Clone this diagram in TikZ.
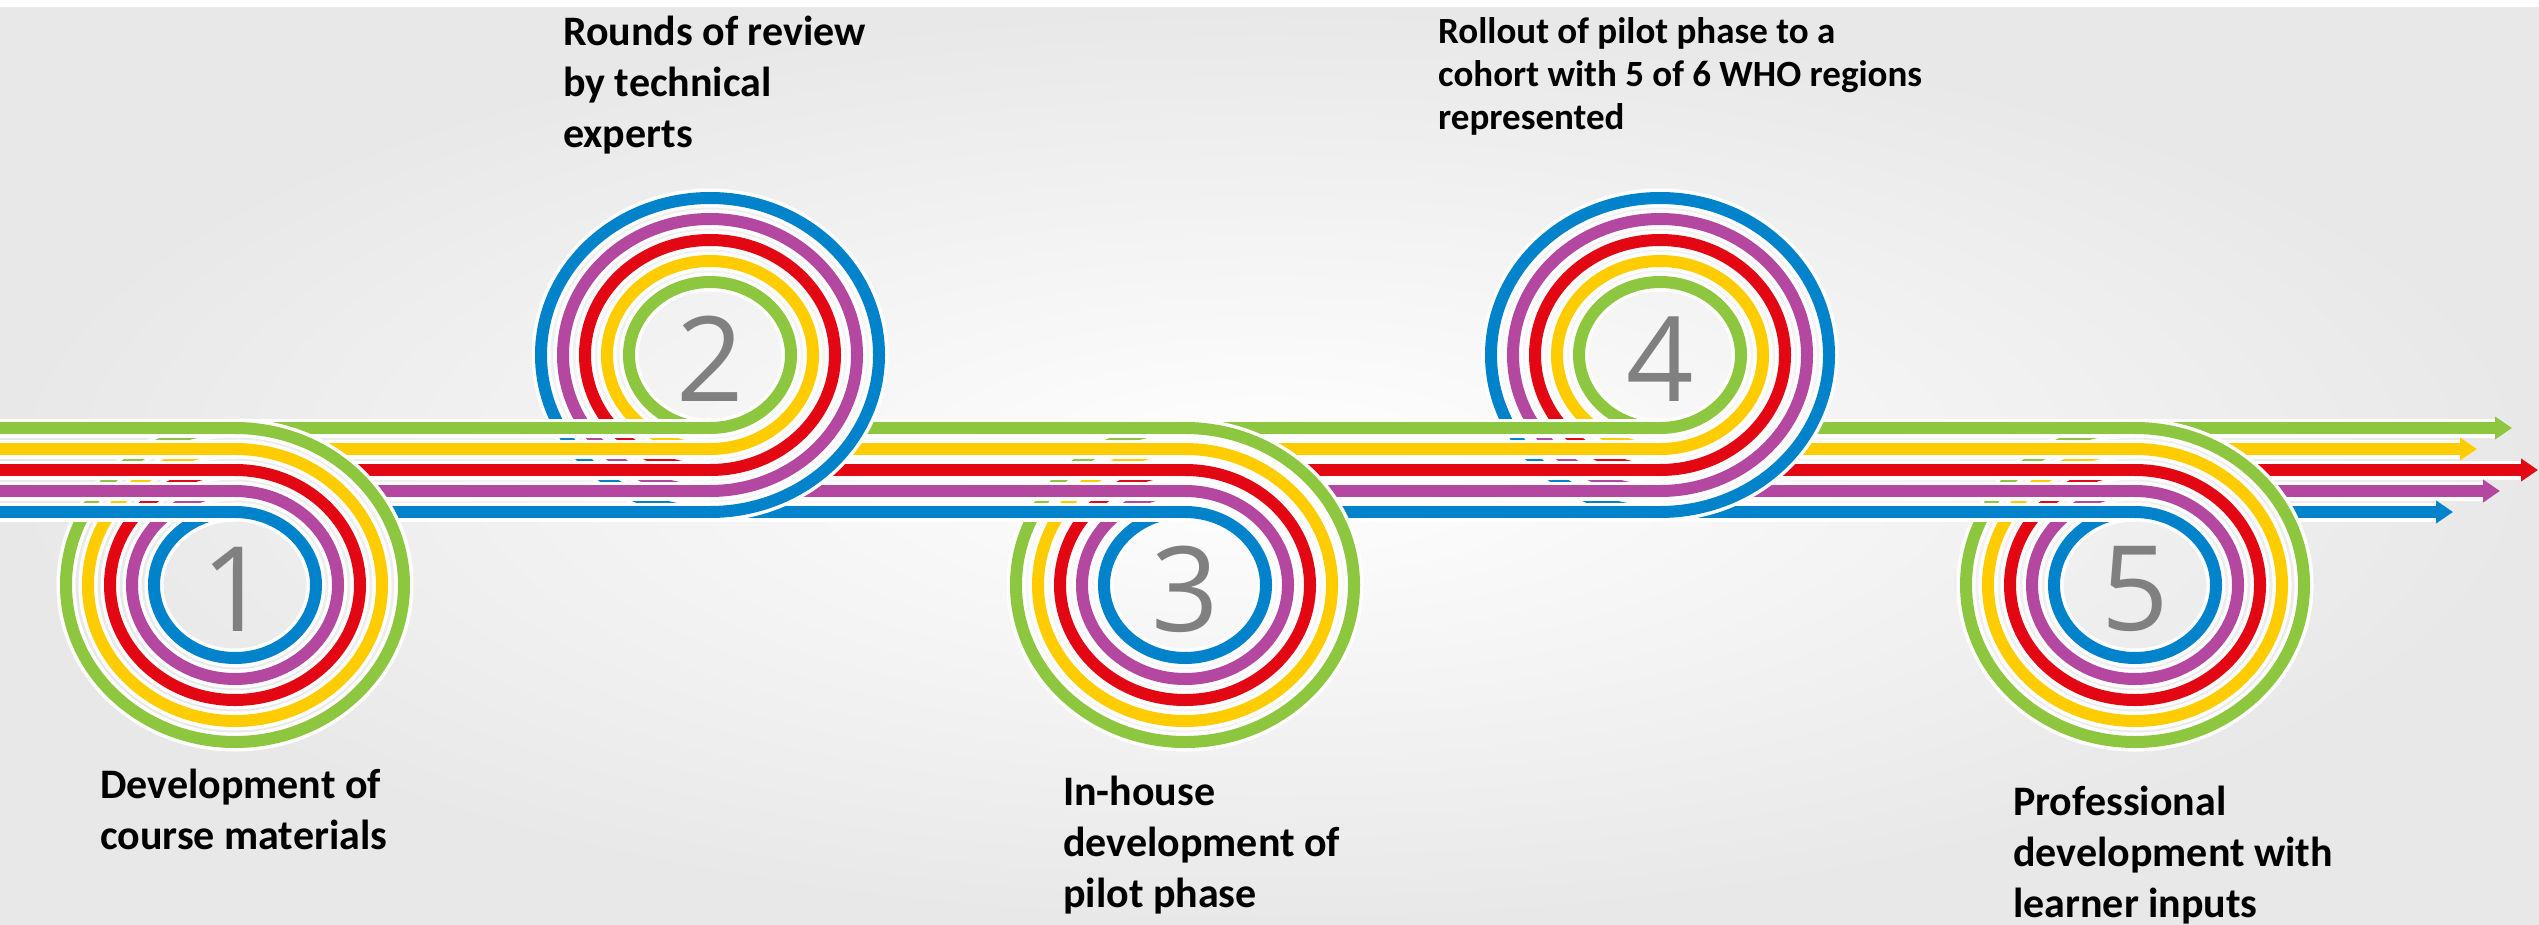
\documentclass[tikz,border=0pt]{standalone}
\usepackage{fontspec}
\setmainfont{Carlito}
\newfontfamily\numfont{Open Sans}
\usetikzlibrary{arrows.meta}

\definecolor{lgreen}{RGB}{141,198,63}
\definecolor{lyellow}{RGB}{255,204,0}
\definecolor{lred}{RGB}{227,6,19}
\definecolor{lpurple}{RGB}{180,72,160}
\definecolor{lblue}{RGB}{0,131,202}
\definecolor{numgray}{RGB}{128,128,128}

\tikzset{
  band/.style={line width=12pt, preaction={draw=white, line width=19pt}},
  stepnum/.style={text=numgray, font=\numfont\fontsize{118}{120}\selectfont, inner sep=0pt},
  milestone/.style={font=\bfseries\fontsize{42}{51}\selectfont, align=left, inner sep=0pt, anchor=base west},
}

\begin{document}
\begin{tikzpicture}[x=1pt, y=-1pt]
\useasboundingbox (0,0) rectangle (2539,925);
\fill[white] (0,0) rectangle (2539,925);
\shade[inner color=white, outer color=black!9] (0,8) rectangle (2539,925);

% outgoing halves, under the rings (line j at height 428+21j)
\foreach \i in {1,...,4}{
  \pgfmathsetmacro\cx{235+475*(\i-1)}
  \pgfmathsetmacro\below{mod(\i,2)}
  \foreach \j/\col in {0/lgreen,1/lyellow,2/lred,3/lpurple,4/lblue}{
    \pgfmathsetmacro\dy{\below*(157-21*\j)+(1-\below)*(73+21*\j)}
    \pgfmathsetmacro\xs{\cx+169*sqrt(max(0,1-(\dy/157)^2))}
    \draw[band, draw=\col] (\xs,428+21*\j) -- (\cx+237.5,428+21*\j);
  }
}
% last ones end in arrows
\foreach \j/\col/\tip in {0/lgreen/2512,1/lyellow/2477,2/lred/2538,3/lpurple/2500,4/lblue/2453}{
  \pgfmathsetmacro\xs{2135+169*sqrt(max(0,1-((157-21*\j)/157)^2))}
  \draw[band, draw=\col, -{Triangle[length=17pt, width=22pt]}] (\xs,428+21*\j) -- (\tip,428+21*\j);
}

% the rings
\foreach \i in {1,...,5}{
  \pgfmathsetmacro\cx{235+475*(\i-1)}
  \pgfmathsetmacro\below{mod(\i,2)}
  \pgfmathsetmacro\cy{\below*585+(1-\below)*355}
  \foreach \j/\col in {0/lgreen,1/lyellow,2/lred,3/lpurple,4/lblue}{
    \pgfmathsetmacro\ry{\below*(157-21*\j)+(1-\below)*(73+21*\j)}
    \pgfmathsetmacro\rx{\below*(169-22*\j)+(1-\below)*(81+22*\j)}
    \draw[band, draw=\col] (\cx,\cy) ellipse [x radius=\rx, y radius=\ry];
  }
  \node[stepnum] (n\i) at (\cx,\cy+4) {\i};
}

% incoming halves, over the rings
\foreach \i in {1,...,5}{
  \pgfmathsetmacro\cx{235+475*(\i-1)}
  \foreach \j/\col in {0/lgreen,1/lyellow,2/lred,3/lpurple,4/lblue}
    \draw[band, draw=\col] (\cx-237.5,428+21*\j) -- (\cx,428+21*\j);
}

% captions (placed at the baseline of their last line)
\node[milestone] (t1) at (100,849) {Development of\\course materials};
\node[milestone] (t2) at (563,148) {Rounds of review\\by technical\\experts};
\node[milestone] (t3) at (1063,907) {In-house\\development of\\pilot phase};
\node[milestone, font=\bfseries\fontsize{37}{43}\selectfont] (t4) at (1438,130) {Rollout of pilot phase to a\\cohort with 5 of 6 WHO regions\\represented};
\node[milestone] (t5) at (2013,917) {Professional\\development with\\learner inputs};
\end{tikzpicture}
\end{document}
